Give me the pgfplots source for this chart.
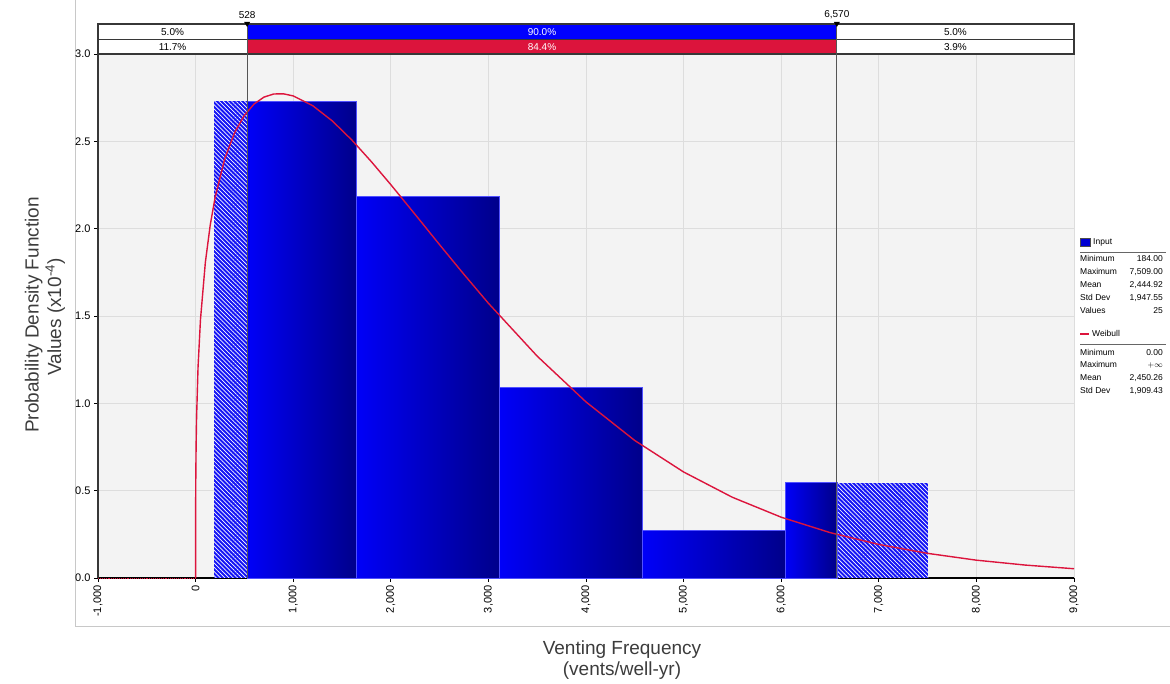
\documentclass[border=0pt]{standalone}
\usepackage{fontspec}
\setmainfont{Liberation Sans}
\usepackage{pgfplots}
\pgfplotsset{compat=1.18}
\usetikzlibrary{patterns.meta}

\definecolor{bandblue}{RGB}{0,0,255}
\definecolor{bandred}{RGB}{220,20,60}
\definecolor{barlight}{RGB}{0,0,248}
\definecolor{bardark}{RGB}{0,0,138}
\definecolor{barline}{RGB}{80,80,255}
\definecolor{hatchblue}{RGB}{20,20,245}
\definecolor{swatchblue}{RGB}{0,0,210}
\definecolor{plotbg}{RGB}{243,243,243}
\definecolor{gridgray}{RGB}{221,221,221}
\definecolor{framegray}{RGB}{200,200,200}
\definecolor{weibull}{RGB}{220,20,60}
\definecolor{edgegray}{RGB}{55,55,55}
\definecolor{textgray}{RGB}{60,60,60}

\newcommand\tickfont{\fontsize{11}{12}\selectfont}
\newcommand\bandfont{\fontsize{10}{11}\selectfont}
\newcommand\legfont{\fontsize{8.5}{9.5}\selectfont}
\newcommand\titlefont{\fontsize{19}{21}\selectfont}

\pgfplotsset{
  hatched bar/.style={ybar interval, draw=none,
    pattern={Lines[angle=-45,distance=3pt,line width=0.7pt]}, pattern color=white},
  shaded bar/.style={ybar interval, draw=barline, line width=0.6pt,
    left color=barlight, right color=bardark},
}

\begin{document}
\begin{tikzpicture}[x=1pt,y=1pt]
\useasboundingbox (0,0) rectangle (1170,684);
% light frame around the chart region
\draw[framegray, line width=1pt] (75.5,684) -- (75.5,57) -- (1170,57);

\begin{axis}[
  at={(98pt,106pt)}, anchor=south west,
  scale only axis, width=976pt, height=524pt,
  xmin=-1000, xmax=9000, ymin=0, ymax=3,
  axis x line*=bottom, axis y line*=left,
  xtick={-1000,0,...,9000}, ytick={0,0.5,...,3},
  tick align=outside, major tick length=4pt,
  grid=major, major grid style={gridgray, line width=0.9pt},
  axis background/.style={fill=plotbg},
  x axis line style={black, line width=1.5pt},
  y axis line style={edgegray, line width=1.5pt},
  tick style={black, line width=0.8pt},
  /pgf/number format/assume math mode=true,
  xticklabel style={rotate=90, anchor=east, font=\tickfont,
    /pgf/number format/.cd, 1000 sep={,}},
  yticklabel style={font=\tickfont,
    /pgf/number format/.cd, fixed, fixed zerofill, precision=1},
  clip=false,
]
% histogram: hatched tails (outside 528 .. 6570)
\addplot[ybar interval, draw=none, fill=hatchblue] coordinates {(184,2.7304) (528,2.7304)};
\addplot[hatched bar] coordinates {(184,2.7304) (528,2.7304)};
\addplot[ybar interval, draw=none, fill=hatchblue] coordinates {(6570,0.5461) (7509,0.5461)};
\addplot[hatched bar] coordinates {(6570,0.5461) (7509,0.5461)};
% histogram: central part, one shaded bar per bin
\addplot[shaded bar] coordinates {(528,2.7304) (1649,2.7304)};
\addplot[shaded bar] coordinates {(1649,2.1843) (3114,2.1843)};
\addplot[shaded bar] coordinates {(3114,1.0922) (4579,1.0922)};
\addplot[shaded bar] coordinates {(4579,0.2730) (6044,0.2730)};
\addplot[shaded bar] coordinates {(6044,0.5461) (6570,0.5461)};

% fitted Weibull density
\addplot[weibull, line width=0.9pt, densely dotted] coordinates {(-1000,0) (0,0)};
\addplot[weibull, line width=1.4pt] coordinates {
 (0,0) (1,0.461) (2,0.567) (5,0.746) (10,0.918) (25,1.207) (50,1.480)
 (100,1.807) (150,2.021) (200,2.179) (300,2.403) (400,2.550) (500,2.649)
 (600,2.714) (700,2.753) (800,2.771) (900,2.772) (1000,2.760) (1200,2.704)
 (1400,2.617) (1600,2.508) (1800,2.384) (2000,2.252) (2250,2.081) (2500,1.908)
 (2750,1.738) (3000,1.573) (3500,1.270) (4000,1.008) (4500,0.787) (5000,0.607)
 (5500,0.462) (6000,0.348) (6500,0.260) (7000,0.192) (7500,0.141) (8000,0.102)
 (8500,0.074) (9000,0.053)};

% percentile band above the plot
\fill[white] (axis cs:-1000,3) rectangle (axis cs:9000,3.172);
\fill[bandblue] (axis cs:528,3.082) rectangle (axis cs:6570,3.172);
\fill[bandred] (axis cs:528,3) rectangle (axis cs:6570,3.082);
\draw[edgegray, line width=1.2pt] (axis cs:-1000,3) rectangle (axis cs:9000,3.172);
\draw[edgegray, line width=1.2pt] (axis cs:-1000,3.082) -- (axis cs:9000,3.082);
\draw[edgegray!85, line width=1.1pt] (axis cs:528,0) -- (axis cs:528,3.172);
\draw[edgegray!85, line width=1.1pt] (axis cs:6570,0) -- (axis cs:6570,3.172);
\fill[black] (axis cs:528,3.172) ++(-3pt,2pt) -- ++(6pt,0pt) -- ++(-3pt,-5pt) -- cycle;
\fill[black] (axis cs:6570,3.172) ++(-3pt,2pt) -- ++(6pt,0pt) -- ++(-3pt,-5pt) -- cycle;
\node[font=\bandfont, anchor=south, inner sep=0pt, yshift=5pt] at (axis cs:528,3.172) {528};
\node[font=\bandfont, anchor=south, inner sep=0pt, yshift=5pt] at (axis cs:6570,3.172) {6,570};
\node[font=\bandfont] at (axis cs:-236,3.127) {5.0\%};
\node[font=\bandfont] at (axis cs:-236,3.041) {11.7\%};
\node[font=\bandfont, white] at (axis cs:3549,3.127) {90.0\%};
\node[font=\bandfont, white] at (axis cs:3549,3.041) {84.4\%};
\node[font=\bandfont] at (axis cs:7785,3.127) {5.0\%};
\node[font=\bandfont] at (axis cs:7785,3.041) {3.9\%};
\end{axis}

% axis titles
\node[font=\titlefont, textgray, anchor=base] at (622,29) {Venting Frequency};
\node[font=\titlefont, textgray, anchor=base] at (622,8) {(vents/well-yr)};
\node[font=\titlefont, textgray, anchor=base, rotate=90] at (38.5,369) {Probability Density Function};
\node[font=\titlefont, textgray, anchor=base, rotate=90] at (61,367) {Values (x10\textsuperscript{-4})};

% statistics panel
\begin{scope}[every node/.style={font=\legfont, inner sep=0pt, text height=6pt, text depth=1.5pt}]
\filldraw[fill=swatchblue, draw=black!70, line width=0.5pt] (1080,438) rectangle (1090,446);
\node[anchor=west] at (1093,442) {Input};
\draw[black!60, line width=0.9pt] (1080,432) -- (1166,432);
\node[anchor=west] at (1080,424.3) {Minimum};   \node[anchor=east] at (1163,424.3) {184.00};
\node[anchor=west] at (1080,411.5) {Maximum};   \node[anchor=east] at (1163,411.5) {7,509.00};
\node[anchor=west] at (1080,398.7) {Mean};      \node[anchor=east] at (1163,398.7) {2,444.92};
\node[anchor=west] at (1080,385.9) {Std Dev};   \node[anchor=east] at (1163,385.9) {1,947.55};
\node[anchor=west] at (1080,373.1) {Values};    \node[anchor=east] at (1163,373.1) {25};
\draw[weibull, line width=1.6pt] (1080,350) -- (1089,350);
\node[anchor=west] at (1092,350) {Weibull};
\draw[black!60, line width=0.9pt] (1080,340) -- (1166,340);
\node[anchor=west] at (1080,331) {Minimum};     \node[anchor=east] at (1163,331) {0.00};
\node[anchor=west] at (1080,318.3) {Maximum};   \node[anchor=east] at (1163,318.3) {$+\infty$};
\node[anchor=west] at (1080,305.6) {Mean};      \node[anchor=east] at (1163,305.6) {2,450.26};
\node[anchor=west] at (1080,292.9) {Std Dev};   \node[anchor=east] at (1163,292.9) {1,909.43};
\end{scope}
\end{tikzpicture}
\end{document}
